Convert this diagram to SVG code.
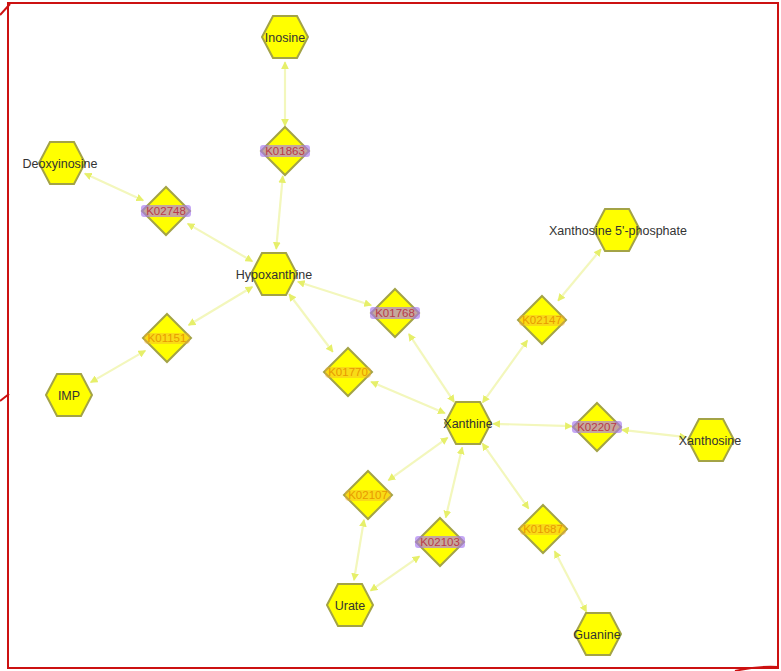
<svg xmlns="http://www.w3.org/2000/svg" width="781" height="671" viewBox="0 0 781 671">
<style>
.edge{stroke:#f3f7bc;stroke-width:2.2;fill:none;marker-start:url(#ah);marker-end:url(#ah)}
.cpd{fill:#ffff00;stroke:#a3a346;stroke-width:2}
.ko{fill:#ffff00;stroke:#a3a346;stroke-width:2}
.lbl{font-family:"Liberation Sans",Arial,sans-serif;font-size:12.5px;fill:#333333;text-anchor:middle;dominant-baseline:central}
.kop{font-family:"Liberation Sans",Arial,sans-serif;font-size:11.5px;fill:#b83a4a;text-anchor:middle;dominant-baseline:central}
.koo{font-family:"Liberation Sans",Arial,sans-serif;font-size:11.5px;fill:#e89a00;text-anchor:middle;dominant-baseline:central}
.pbg{fill:#a678f0;opacity:0.65}
.obg{fill:#f2b030;opacity:0.45}
</style>
<defs>
<polygon id="hex" points="-23,0 -12,-21 12,-21 23,0 12,21 -12,21"/>
<polygon id="dia" points="0,-24 24,0 0,24 -24,0"/>
<marker id="ah" viewBox="0 0 10 10" refX="9" refY="5" markerWidth="3.5" markerHeight="3.5" orient="auto-start-reverse" markerUnits="strokeWidth">
<path d="M0,0 L10,5 L0,10 z" fill="#e6ef6a"/>
</marker>
</defs>
<rect x="0" y="0" width="781" height="671" fill="#ffffff"/>
<g id="frame" stroke="#cc1111" stroke-width="2" fill="none">
<rect x="8" y="3" width="770" height="665"/>
<line x1="0" y1="15" x2="10" y2="4"/>
<line x1="0" y1="401" x2="9" y2="394"/>
<path d="M735,671 Q755,666 778,667"/>
</g>
<g id="connectors">
<line class="edge" x1="285" y1="62" x2="285" y2="126"/>
<line class="edge" x1="282.8" y1="175.9" x2="276.2" y2="249.1"/>
<line class="edge" x1="84.7" y1="173.5" x2="143.3" y2="200.5"/>
<line class="edge" x1="187.6" y1="223.6" x2="252.4" y2="261.4"/>
<line class="edge" x1="90.6" y1="382.4" x2="145.4" y2="350.6"/>
<line class="edge" x1="188.5" y1="325.2" x2="252.5" y2="286.8"/>
<line class="edge" x1="297.8" y1="281.7" x2="371.2" y2="305.3"/>
<line class="edge" x1="408.8" y1="333.8" x2="454.2" y2="402.2"/>
<line class="edge" x1="289.1" y1="294" x2="332.9" y2="352"/>
<line class="edge" x1="371" y1="381.8" x2="445" y2="413.2"/>
<line class="edge" x1="601" y1="249.2" x2="558" y2="300.8"/>
<line class="edge" x1="527.4" y1="340.3" x2="482.6" y2="402.7"/>
<line class="edge" x1="493" y1="423.8" x2="572" y2="426.2"/>
<line class="edge" x1="686.2" y1="437.2" x2="621.8" y2="429.8"/>
<line class="edge" x1="447.7" y1="437.6" x2="388.3" y2="480.4"/>
<line class="edge" x1="364" y1="519.7" x2="354" y2="580.3"/>
<line class="edge" x1="462.3" y1="447.3" x2="445.7" y2="517.7"/>
<line class="edge" x1="370.5" y1="590.7" x2="419.5" y2="556.3"/>
<line class="edge" x1="586.4" y1="611.9" x2="554.6" y2="551.1"/>
<line class="edge" x1="528.6" y1="508.6" x2="482.4" y2="443.4"/>
</g>
<g id="Inosine"><use href="#hex" class="cpd" x="285" y="37"/><text class="lbl" x="285" y="38">Inosine</text></g>
<g id="Deoxyinosine"><use href="#hex" class="cpd" x="62" y="163"/><text class="lbl" x="60" y="164">Deoxyinosine</text></g>
<g id="Hypoxanthine"><use href="#hex" class="cpd" x="274" y="274"/><text class="lbl" x="274" y="275">Hypoxanthine</text></g>
<g id="IMP"><use href="#hex" class="cpd" x="69" y="395"/><text class="lbl" x="69" y="396">IMP</text></g>
<g id="X5P"><use href="#hex" class="cpd" x="617" y="230"/><text class="lbl" x="618" y="231">Xanthosine 5'-phosphate</text></g>
<g id="Xanthine"><use href="#hex" class="cpd" x="468" y="423"/><text class="lbl" x="468" y="424">Xanthine</text></g>
<g id="Xanthosine"><use href="#hex" class="cpd" x="711" y="440"/><text class="lbl" x="710" y="441">Xanthosine</text></g>
<g id="Urate"><use href="#hex" class="cpd" x="350" y="605"/><text class="lbl" x="350" y="606">Urate</text></g>
<g id="Guanine"><use href="#hex" class="cpd" x="598" y="634"/><text class="lbl" x="597" y="635">Guanine</text></g>
<g id="K01863"><use href="#dia" class="ko" x="285" y="151"/><rect class="pbg" x="260" y="145" width="50" height="12" rx="3"/><text class="kop" x="285" y="151">K01863</text></g>
<g id="K02748"><use href="#dia" class="ko" x="166" y="211"/><rect class="pbg" x="141" y="205" width="50" height="12" rx="3"/><text class="kop" x="166" y="211">K02748</text></g>
<g id="K01151"><use href="#dia" class="ko" x="167" y="338"/><rect class="obg" x="144" y="333" width="46" height="11" rx="4"/><text class="koo" x="167" y="338">K01151</text></g>
<g id="K01768"><use href="#dia" class="ko" x="395" y="313"/><rect class="pbg" x="370" y="307" width="50" height="12" rx="3"/><text class="kop" x="395" y="313">K01768</text></g>
<g id="K01770"><use href="#dia" class="ko" x="348" y="372"/><rect class="obg" x="325" y="367" width="46" height="11" rx="4"/><text class="koo" x="348" y="372">K01770</text></g>
<g id="K02147"><use href="#dia" class="ko" x="542" y="320"/><rect class="obg" x="519" y="315" width="46" height="11" rx="4"/><text class="koo" x="542" y="320">K02147</text></g>
<g id="K02207"><use href="#dia" class="ko" x="597" y="427"/><rect class="pbg" x="572" y="421" width="50" height="12" rx="3"/><text class="kop" x="597" y="427">K02207</text></g>
<g id="K02107"><use href="#dia" class="ko" x="368" y="495"/><rect class="obg" x="345" y="490" width="46" height="11" rx="4"/><text class="koo" x="368" y="495">K02107</text></g>
<g id="K02103"><use href="#dia" class="ko" x="440" y="542"/><rect class="pbg" x="415" y="536" width="50" height="12" rx="3"/><text class="kop" x="440" y="542">K02103</text></g>
<g id="K01687"><use href="#dia" class="ko" x="543" y="529"/><rect class="obg" x="520" y="524" width="46" height="11" rx="4"/><text class="koo" x="543" y="529">K01687</text></g>
</svg>
